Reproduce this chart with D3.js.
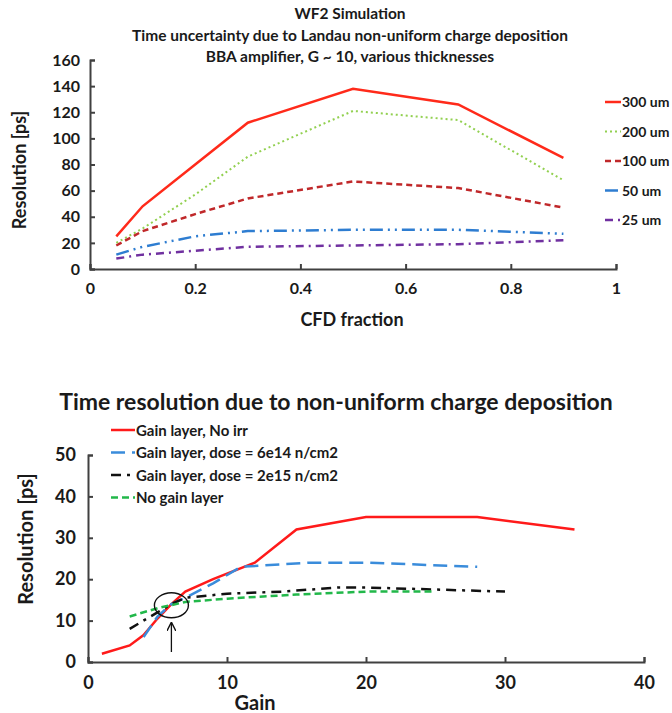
<!DOCTYPE html>
<html>
<head>
<meta charset="utf-8">
<script src="https://cdn.jsdelivr.net/npm/d3@7"></script>
<style>
  body { margin: 0; background: #fff; }
  text { font-family: Lato, "Open Sans", sans-serif; fill: #1a1a1a; }
</style>
</head>
<body>
<div id="chart"></div>
<script>
// top chart: CFD fraction vs resolution, per thickness
var cfdFrac = [0.05, 0.1, 0.2, 0.3, 0.5, 0.7, 0.9];
var res300 = [25, 48, 80, 112, 138, 126, 85];
var res200 = [20, 31, 57, 86, 121, 114, 68];
var res100 = [18, 29, 42, 54, 67, 62, 47];
var res50  = [11, 17, 25, 29, 30, 30, 27];
var res25  = [8, 11, 14, 17, 18, 19, 22];
var thickNames = ["300 um", "200 um", "100 um", "50 um", "25 um"];
var cfdTicks = [0, 0.2, 0.4, 0.6, 0.8, 1];
var resTicksTop = [0, 20, 40, 60, 80, 100, 120, 140, 160];

// bottom chart: gain vs resolution
var gainNoIrr = [1, 3, 4, 5, 6, 7, 9, 12, 15, 20, 28, 35];
var resNoIrr  = [2, 4, 6.5, 10.5, 14, 17, 20, 24, 32, 35, 35, 32];
var gain6e14 = [4, 5, 6, 7, 9, 11, 16, 20, 28];
var res6e14  = [6, 11, 14, 15.5, 19, 23, 24, 24, 23];
var gain2e15 = [3, 5, 6, 7, 10, 14, 18, 20, 30];
var res2e15  = [8, 12, 14, 15.5, 16.5, 17, 18, 18, 17];
var gainNoGL = [3, 5, 7, 10, 15, 20, 25];
var resNoGL  = [11, 13, 14.5, 15.3, 16.3, 17, 17];
var gainNames = ["Gain layer, No irr", "Gain layer, dose = 6e14 n/cm2", "Gain layer, dose = 2e15 n/cm2", "No gain layer"];
var gainTicks = [0, 10, 20, 30, 40];
var resTicksBot = [0, 10, 20, 30, 40, 50];

var width = 672, height = 713;
var axisCol = "#404040";

var svg = d3.select("#chart").append("svg")
    .attr("width", width)
    .attr("height", height);

// ---------- top chart ----------
var x1 = d3.scaleLinear().domain([0, 1]).range([90, 616]);
var y1 = d3.scaleLinear().domain([0, 160]).range([269, 60]);

var topTitles = ["WF2 Simulation", "Time uncertainty due to Landau non-uniform charge deposition", "BBA amplifier, G ~ 10, various thicknesses"];
svg.selectAll(".ttl").data(topTitles).enter().append("text")
    .attr("x", 350)
    .attr("y", function(d, i){ return 19 + i * 21.5; })
    .attr("text-anchor", "middle")
    .attr("font-size", "15.5px")
    .attr("font-weight", "bold")
    .attr("fill", "#222")
    .text(function(d){ return d; });

var gTop = svg.append("g");

var xAx1 = gTop.append("g")
    .attr("transform", "translate(0," + y1(0) + ")")
    .call(d3.axisBottom(x1).tickValues(cfdTicks).tickSize(-5).tickPadding(14)
        .tickFormat(function(d){ return d3.format("")(d); }));
var yAx1 = gTop.append("g")
    .attr("transform", "translate(" + x1(0) + ",0)")
    .call(d3.axisLeft(y1).tickValues(resTicksTop).tickSize(-5).tickPadding(10));

[xAx1, yAx1].forEach(function(ax){
    ax.selectAll("path, line").attr("stroke", axisCol).attr("stroke-width", 2);
    ax.selectAll("text").attr("font-size", "16px").attr("font-weight", "bold")
        .attr("font-family", "Lato, sans-serif").attr("fill", "#1a1a1a");
});

gTop.append("text")
    .attr("x", 352).attr("y", 326)
    .attr("text-anchor", "middle")
    .attr("font-size", "18px").attr("font-weight", "bold")
    .text("CFD fraction");

gTop.append("text")
    .attr("transform", "translate(26,170) rotate(-90)")
    .attr("text-anchor", "middle")
    .attr("font-size", "18px").attr("font-weight", "bold")
    .text("Resolution [ps]");

var topSeries = [
    {name: thickNames[0], vals: res300, color: "#FF2A1A", dash: null, w: 2.5},
    {name: thickNames[1], vals: res200, color: "#92D050", dash: "2,3", w: 2},
    {name: thickNames[2], vals: res100, color: "#C0282A", dash: "6,4", w: 2.5},
    {name: thickNames[3], vals: res50,  color: "#2E7DD1", dash: "13,5,2,5,2,5", w: 2.5},
    {name: thickNames[4], vals: res25,  color: "#7030A0", dash: "8,5,2,5", w: 2.5}
];

var line1 = d3.line()
    .x(function(d, i){ return x1(cfdFrac[i]); })
    .y(function(d){ return y1(d); });

gTop.selectAll(".s1").data(topSeries).enter().append("path")
    .attr("d", function(s){ return line1(s.vals); })
    .attr("fill", "none")
    .attr("stroke", function(s){ return s.color; })
    .attr("stroke-width", function(s){ return s.w; })
    .attr("stroke-dasharray", function(s){ return s.dash; });

// legend on the right
var leg1 = gTop.selectAll(".leg1").data(topSeries).enter().append("g")
    .attr("transform", function(d, i){ return "translate(605," + (102 + i * 29.5) + ")"; });
leg1.append("line")
    .attr("x1", 0).attr("x2", 16)
    .attr("stroke", function(s){ return s.color; })
    .attr("stroke-width", function(s){ return s.w; })
    .attr("stroke-dasharray", function(s){ return s.dash; });
leg1.append("text")
    .attr("x", 17).attr("y", 5)
    .attr("font-size", "14px").attr("font-weight", "bold")
    .text(function(s){ return s.name; });

// ---------- bottom chart ----------
var x2 = d3.scaleLinear().domain([0, 40]).range([88, 644]);
var y2 = d3.scaleLinear().domain([0, 50]).range([662, 455]);

svg.append("text")
    .attr("x", 336).attr("y", 410)
    .attr("text-anchor", "middle")
    .attr("font-size", "23px").attr("font-weight", "bold")
    .text("Time resolution due to non-uniform charge deposition");

var gBot = svg.append("g");

var xAx2 = gBot.append("g")
    .attr("transform", "translate(0," + y2(0) + ")")
    .call(d3.axisBottom(x2).tickValues(gainTicks).tickSize(-5).tickPadding(14));
var yAx2 = gBot.append("g")
    .attr("transform", "translate(" + x2(0) + ",0)")
    .call(d3.axisLeft(y2).tickValues(resTicksBot).tickSize(-5).tickPadding(12));

[xAx2, yAx2].forEach(function(ax){
    ax.selectAll("path, line").attr("stroke", axisCol).attr("stroke-width", 2);
    ax.selectAll("text").attr("font-size", "18px").attr("font-weight", "bold")
        .attr("font-family", "Lato, sans-serif").attr("fill", "#1a1a1a");
});

gBot.append("text")
    .attr("x", 255).attr("y", 710)
    .attr("text-anchor", "middle")
    .attr("font-size", "20px").attr("font-weight", "bold")
    .text("Gain");

gBot.append("text")
    .attr("transform", "translate(33,539) rotate(-90)")
    .attr("text-anchor", "middle")
    .attr("font-size", "20px").attr("font-weight", "bold")
    .text("Resolution [ps]");

var botSeries = [
    {name: gainNames[0], xs: gainNoIrr, vals: resNoIrr, color: "#FF1A1A", dash: null},
    {name: gainNames[1], xs: gain6e14, vals: res6e14, color: "#3A8CDB", dash: "14,7"},
    {name: gainNames[2], xs: gain2e15, vals: res2e15, color: "#111111", dash: "10,6,3,6"},
    {name: gainNames[3], xs: gainNoGL, vals: resNoGL, color: "#22B84A", dash: "7,4"}
];

var line2 = d3.line()
    .x(function(d){ return x2(d[0]); })
    .y(function(d){ return y2(d[1]); });

gBot.selectAll(".s2").data(botSeries).enter().append("path")
    .attr("d", function(s){ return line2(d3.zip(s.xs, s.vals)); })
    .attr("fill", "none")
    .attr("stroke", function(s){ return s.color; })
    .attr("stroke-width", 2.5)
    .attr("stroke-dasharray", function(s){ return s.dash; });

// crossing point marker + arrow
gBot.append("ellipse")
    .attr("cx", x2(6)).attr("cy", y2(13.7))
    .attr("rx", 17).attr("ry", 12.5)
    .attr("fill", "none").attr("stroke", "#111").attr("stroke-width", 1.4);

svg.append("defs").append("marker")
    .attr("id", "arr")
    .attr("viewBox", "0 0 10 10")
    .attr("refX", 9).attr("refY", 5)
    .attr("markerWidth", 7).attr("markerHeight", 7)
    .attr("orient", "auto")
    .append("path").attr("d", "M0,0 L10,5 L0,10").attr("fill", "none")
    .attr("stroke", "#111").attr("stroke-width", 1.5);

gBot.append("line")
    .attr("x1", x2(6)).attr("x2", x2(6))
    .attr("y1", 652).attr("y2", 623)
    .attr("stroke", "#111").attr("stroke-width", 1.3)
    .attr("marker-end", "url(#arr)");

var leg2 = gBot.selectAll(".leg2").data(botSeries).enter().append("g")
    .attr("transform", function(d, i){ return "translate(111," + (430 + i * 22.5) + ")"; });
leg2.append("line")
    .attr("x1", 0).attr("x2", 24)
    .attr("stroke", function(s){ return s.color; })
    .attr("stroke-width", 2.5)
    .attr("stroke-dasharray", function(s){ return s.dash; });
leg2.append("text")
    .attr("x", 25).attr("y", 5.5)
    .attr("font-size", "15px").attr("font-weight", "bold")
    .text(function(s){ return s.name; });
</script>
</body>
</html>
